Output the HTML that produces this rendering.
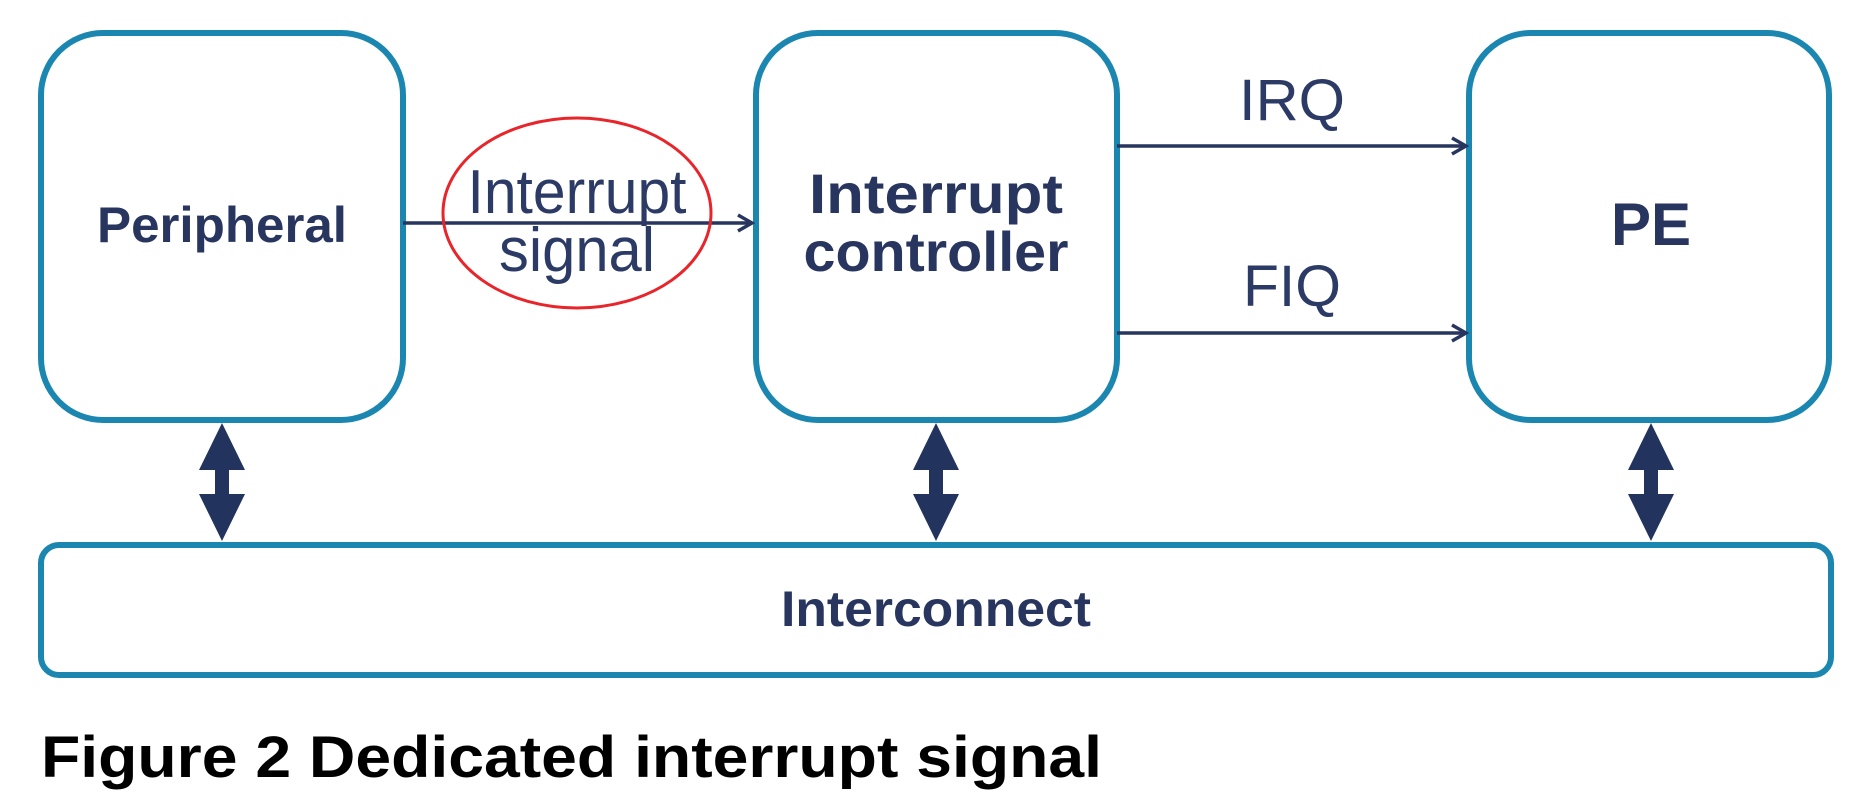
<!DOCTYPE html>
<html><head><meta charset="utf-8"><style>
html,body{margin:0;padding:0;background:#fff;width:1857px;height:799px;overflow:hidden}
svg{display:block}
</style></head><body>
<svg width="1857" height="799" viewBox="0 0 1857 799" xmlns="http://www.w3.org/2000/svg" font-family="Liberation Sans, sans-serif">
<defs>
<marker id="ah" markerWidth="20" markerHeight="20" refX="17" refY="10" orient="auto" markerUnits="userSpaceOnUse">
<path d="M3,2 L17,10 L3,18" fill="none" stroke="#27355f" stroke-width="3.5"/>
</marker>
</defs>
<g fill="none" stroke="#1b87b0" stroke-width="6">
<rect x="41" y="33" width="362" height="387" rx="62"/>
<rect x="756" y="33" width="361" height="387" rx="62"/>
<rect x="1469" y="33" width="360" height="387" rx="62"/>
<rect x="41" y="545" width="1790" height="130" rx="18"/>
</g>
<g fill="#27355f" font-weight="bold" text-anchor="middle">
<text x="222" y="242" font-size="50" textLength="250" lengthAdjust="spacingAndGlyphs">Peripheral</text>
<text x="936" y="213" font-size="56" textLength="254" lengthAdjust="spacingAndGlyphs">Interrupt</text>
<text x="936" y="271" font-size="56" textLength="265" lengthAdjust="spacingAndGlyphs">controller</text>
<text x="1651" y="245" font-size="60">PE</text>
<text x="936" y="626" font-size="50" textLength="310" lengthAdjust="spacingAndGlyphs">Interconnect</text>
</g>
<g stroke="#27355f" stroke-width="3.5" fill="none">
<line x1="403" y1="223" x2="752" y2="223" marker-end="url(#ah)"/>
<line x1="1117" y1="146" x2="1466" y2="146" marker-end="url(#ah)"/>
<line x1="1117" y1="333" x2="1466" y2="333" marker-end="url(#ah)"/>
</g>
<ellipse cx="577" cy="213" rx="134" ry="95" fill="none" stroke="#e8252b" stroke-width="3"/>
<g fill="#2c3a66" text-anchor="middle" font-size="62">
<text x="577" y="213" textLength="219" lengthAdjust="spacingAndGlyphs">Interrupt</text>
<text x="577" y="271" textLength="156" lengthAdjust="spacingAndGlyphs">signal</text>
<text x="1292" y="120" font-size="58" textLength="106" lengthAdjust="spacingAndGlyphs">IRQ</text>
<text x="1292" y="306" font-size="58" textLength="98" lengthAdjust="spacingAndGlyphs">FIQ</text>
</g>
<g fill="#22345e">
<path d="M222,423 L245,470 L229,470 L229,494 L245,494 L222,541 L199,494 L215,494 L215,470 L199,470 Z"/>
<path d="M936,423 L959,470 L943,470 L943,494 L959,494 L936,541 L913,494 L929,494 L929,470 L913,470 Z"/>
<path d="M1651,423 L1674,470 L1658,470 L1658,494 L1674,494 L1651,541 L1628,494 L1644,494 L1644,470 L1628,470 Z"/>
</g>
<text x="41" y="777" font-size="58" font-weight="bold" fill="#000" textLength="1061" lengthAdjust="spacingAndGlyphs">Figure 2 Dedicated interrupt signal</text>
</svg>
</body></html>
